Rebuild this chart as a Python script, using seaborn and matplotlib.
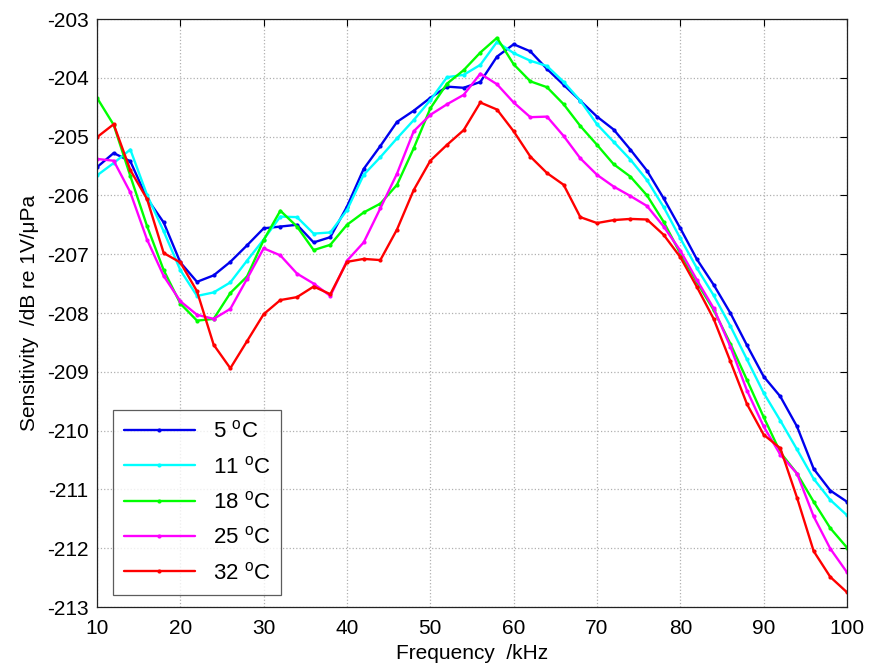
import numpy as np
import pandas as pd
import matplotlib
matplotlib.use("Agg")
import matplotlib.pyplot as plt
import seaborn as sns

# Frequency axis, kHz
freq = list(range(10, 101, 2))

sens_5 = [-205.52, -205.28, -205.42, -206.05, -206.46, -207.14, -207.47, -207.36, -207.13, -206.85,
          -206.56, -206.53, -206.50, -206.80, -206.71, -206.19, -205.55, -205.16, -204.75, -204.56,
          -204.34, -204.15, -204.17, -204.07, -203.64, -203.43, -203.55, -203.85, -204.12, -204.39,
          -204.66, -204.88, -205.22, -205.58, -206.05, -206.56, -207.09, -207.52, -208.00, -208.55,
          -209.08, -209.42, -209.93, -210.65, -211.02, -211.21]
sens_11 = [-205.66, -205.45, -205.22, -205.99, -206.61, -207.27, -207.71, -207.65, -207.48, -207.11,
           -206.75, -206.36, -206.37, -206.65, -206.63, -206.25, -205.65, -205.35, -205.03, -204.72,
           -204.38, -203.99, -203.95, -203.78, -203.39, -203.58, -203.71, -203.80, -204.07, -204.39,
           -204.79, -205.09, -205.39, -205.74, -206.20, -206.73, -207.24, -207.70, -208.22, -208.79,
           -209.36, -209.83, -210.32, -210.82, -211.18, -211.44]
sens_18 = [-204.34, -204.80, -205.67, -206.52, -207.27, -207.84, -208.13, -208.10, -207.66, -207.38,
           -206.76, -206.26, -206.53, -206.93, -206.84, -206.50, -206.29, -206.14, -205.82, -205.20,
           -204.52, -204.10, -203.87, -203.57, -203.32, -203.77, -204.06, -204.16, -204.45, -204.82,
           -205.14, -205.47, -205.68, -206.00, -206.45, -206.99, -207.48, -207.95, -208.52, -209.14,
           -209.77, -210.37, -210.73, -211.21, -211.66, -211.99]
sens_25 = [-205.38, -205.41, -205.95, -206.75, -207.37, -207.80, -208.03, -208.10, -207.93, -207.42,
           -206.90, -207.02, -207.33, -207.50, -207.71, -207.11, -206.80, -206.22, -205.63, -204.91,
           -204.63, -204.45, -204.29, -203.93, -204.11, -204.42, -204.67, -204.66, -204.99, -205.37,
           -205.65, -205.85, -206.01, -206.18, -206.53, -206.94, -207.44, -207.92, -208.57, -209.32,
           -209.93, -210.41, -210.73, -211.46, -212.01, -212.41]
sens_32 = [-205.01, -204.79, -205.57, -206.06, -206.98, -207.14, -207.63, -208.54, -208.94, -208.48,
           -208.02, -207.78, -207.73, -207.55, -207.68, -207.13, -207.08, -207.10, -206.58, -205.91,
           -205.41, -205.14, -204.89, -204.42, -204.54, -204.91, -205.34, -205.62, -205.82, -206.37,
           -206.47, -206.42, -206.40, -206.41, -206.67, -207.05, -207.56, -208.10, -208.82, -209.55,
           -210.07, -210.30, -211.14, -212.05, -212.49, -212.75]

labels = ["5 $^\\mathregular{o}$C", "11 $^\\mathregular{o}$C", "18 $^\\mathregular{o}$C",
          "25 $^\\mathregular{o}$C", "32 $^\\mathregular{o}$C"]
colors = ["#0000ee", "#00ffff", "#00ff00", "#ff00ff", "#ff0000"]

frames = []
for lab, vals in zip(labels, [sens_5, sens_11, sens_18, sens_25, sens_32]):
    frames.append(pd.DataFrame({"freq": freq, "sens": vals, "temp": lab}))
df = pd.concat(frames, ignore_index=True)

sns.set_style("white")
plt.rcParams["font.family"] = ["Liberation Sans", "DejaVu Sans"]
plt.rcParams["mathtext.fontset"] = "custom"
plt.rcParams["mathtext.rm"] = "Liberation Sans"
plt.rcParams["axes.unicode_minus"] = False
plt.rcParams["text.color"] = "black"
plt.rcParams["axes.labelcolor"] = "black"
plt.rcParams["xtick.color"] = "black"
plt.rcParams["ytick.color"] = "black"

fig = plt.figure(figsize=(8.69, 6.70), dpi=100)
ax = fig.add_axes([97 / 869, 63 / 670, 750 / 869, 588 / 670])

sns.lineplot(data=df, x="freq", y="sens", hue="temp", palette=colors,
             marker=".", markersize=6, markeredgewidth=0, linewidth=1.7,
             ax=ax, legend=True)

ax.set_xlim(10, 100)
ax.set_ylim(-213, -203)
ax.set_xticks(range(10, 101, 10))
ax.set_yticks(range(-213, -202, 1))
ax.grid(True, linestyle=":", color="#b0b0b0", linewidth=0.9)
ax.tick_params(direction="in", length=5, labelsize=15, top=True, right=True,
               color="black", width=0.8)
ax.tick_params(axis="x", pad=9)
ax.tick_params(axis="y", pad=6)
for s in ax.spines.values():
    s.set_color("#222222")
    s.set_linewidth(0.9)

ax.set_xlabel("Frequency  /kHz", fontsize=15, labelpad=4)
ax.set_ylabel("Sensitivity  /dB re 1V/μPa", fontsize=15, labelpad=6)

leg = ax.legend(loc="lower left", bbox_to_anchor=(0.021, 0.02), borderaxespad=0,
                fontsize=16, frameon=True, fancybox=False, edgecolor="#333333",
                handlelength=3.2, labelspacing=0.6, borderpad=0.5)
leg.get_frame().set_linewidth(0.9)

fig.savefig("out.png", dpi=100)
